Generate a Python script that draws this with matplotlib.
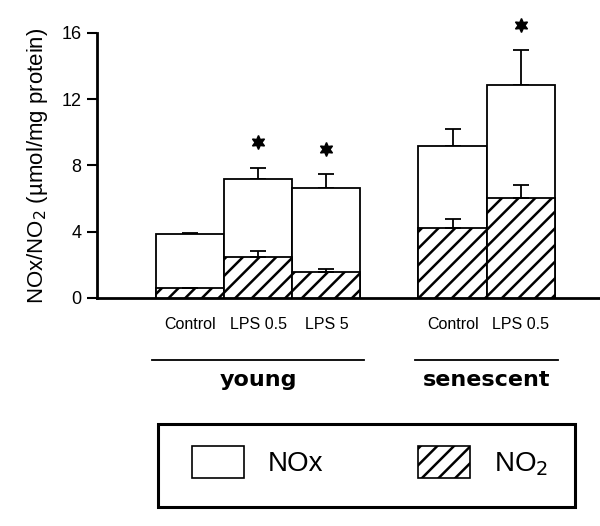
import matplotlib.pyplot as plt
from matplotlib.patches import Patch, Rectangle

plt.rcParams['font.family'] = ['Liberation Sans', 'DejaVu Sans']
plt.rcParams['hatch.linewidth'] = 1.8

# data
labels = ['Control', 'LPS 0.5', 'LPS 5', 'Control', 'LPS 0.5']
groups = ['young', 'senescent']
group_sizes = [3, 2]
nox = [3.85, 7.2, 6.65, 9.2, 12.85]
nox_err = [0.05, 0.65, 0.85, 1.0, 2.1]
no2 = [0.6, 2.45, 1.55, 4.2, 6.05]
no2_err = [0.0, 0.4, 0.2, 0.55, 0.8]
star_y = [None, 9.4, 9.0, None, 16.5]

# bar positions: bars touch inside a group, gap between groups
gap = 0.85
pos = []
x = 0
for gi, n in enumerate(group_sizes):
    for i in range(n):
        pos.append(x)
        x += 1
    x += gap

fig = plt.figure(figsize=(6, 5.26), dpi=100)
ax = fig.add_axes([97 / 600, 228 / 526, 503 / 600, 265 / 526])

ax.bar(pos, nox, width=1, color='white', edgecolor='black', linewidth=1.3, zorder=2)
ax.bar(pos, no2, width=1, color='white', edgecolor='black', linewidth=1.3,
       hatch='//', zorder=3)
ax.errorbar(pos, nox, yerr=[[0] * len(nox), nox_err], fmt='none', ecolor='black',
            elinewidth=1.3, capsize=5.5, capthick=1.3, zorder=1)
ax.errorbar(pos, no2, yerr=[[0] * len(no2), no2_err], fmt='none', ecolor='black',
            elinewidth=1.3, capsize=5.5, capthick=1.3, zorder=4)

for p, s in zip(pos, star_y):
    if s is not None:
        ax.plot(p, s, marker=(6, 1, 0), color='black', markersize=10,
                clip_on=False, zorder=5)

ax.set_xlim(pos[0] - 1.36, pos[-1] + 1.16)
ax.set_ylim(0, 16)
ax.set_yticks([0, 4, 8, 12, 16])
ax.set_xticks(pos, labels, fontsize=11.5)
ax.tick_params(axis='x', length=0, pad=14)
ax.tick_params(axis='y', length=7, width=1.5, labelsize=13, pad=4)

for side in ['top', 'right']:
    ax.spines[side].set_visible(False)
ax.spines['left'].set_linewidth(2)
ax.spines['bottom'].set_linewidth(2)

ax.set_ylabel('NOx/NO$_2$ (µmol/mg protein)', fontsize=16, labelpad=8)

# group brackets and names
tr = ax.get_xaxis_transform()
start = 0
for gi, n in enumerate(group_sizes):
    x0 = pos[start] - 0.5
    x1 = pos[start + n - 1] + 0.5
    ax.plot([x0 - 0.05, x1 + 0.05], [-0.235, -0.235], color='black', lw=1.3,
            transform=tr, clip_on=False)
    ax.text((x0 + x1) / 2, -0.31, groups[gi], transform=tr, ha='center', va='center',
            fontsize=16, fontweight='bold', family='DejaVu Sans')
    start += n

# legend with a box around it
fig.patches.append(Rectangle((158 / 600, 19 / 526), 417 / 600, 83 / 526, fill=False,
                             edgecolor='black', linewidth=2.2, transform=fig.transFigure))
handles = [Patch(facecolor='white', edgecolor='black', linewidth=1.2),
           Patch(facecolor='white', edgecolor='black', linewidth=1.2, hatch='//')]
fig.legend(handles, ['NOx', 'NO$_2$'], ncol=2, frameon=False, fontsize=20,
           loc='center', bbox_to_anchor=(370 / 600, 64 / 526),
           handlelength=1.87, handleheight=1.44, handletextpad=0.86,
           columnspacing=3.4, borderpad=0)

fig.savefig('out.png', dpi=100)
